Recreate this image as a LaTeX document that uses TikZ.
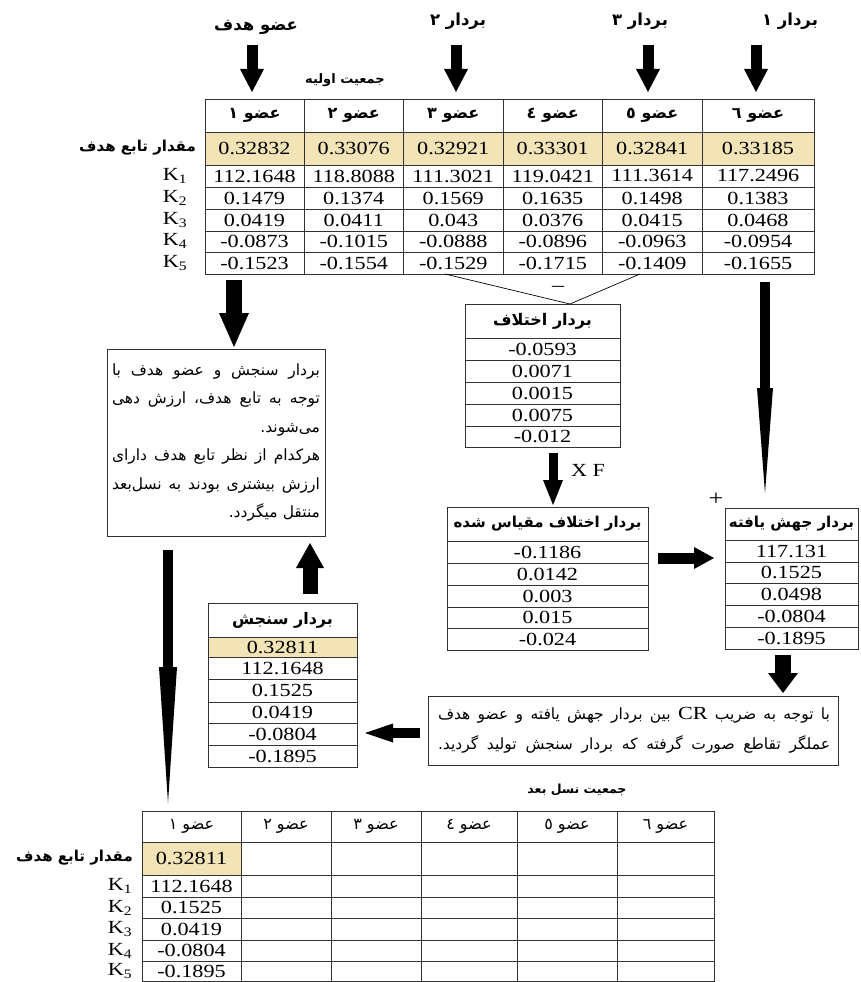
\documentclass[tikz,border=0pt]{standalone}
\usepackage{fontspec}
\setmainfont{Liberation Serif}[FakeStretch=1.2]
\newfontfamily\arb[Script=Arabic]{DejaVu Sans}
\TeXXeTstate=1
\usetikzlibrary{arrows.meta}
\definecolor{hl}{RGB}{242,228,183}
\definecolor{grid}{RGB}{50,50,50}
\newcommand{\RL}[1]{\beginR#1\endR}
\newlength\jlw
% justified right-to-left line: #1 width, #2 number of spaces, #3 text
\newcommand{\JL}[3]{%
  \leavevmode
  \setbox0=\hbox{\spaceskip=0.001pt\beginR#3\endR}%
  \jlw=#1\relax\advance\jlw by -\wd0\relax\divide\jlw by #2\relax
  \hbox to #1{\spaceskip=\jlw\beginR#3\endR}}
\newcommand{\numfont}{\fontsize{18.5}{20}\selectfont}
\newcommand{\Cell}[7]{%
  \node[cell,#6,minimum width={(#3)-(#2)},minimum height={(#5)-(#4)}] (#1) at ({((#2)+(#3))/2},{((#4)+(#5))/2}) {#7};}
\begin{document}
\begin{tikzpicture}[x=1pt,y=-1pt,
  cell/.style={draw=grid,line width=0.6pt,inner sep=0pt,anchor=center,font=\numfont},
  hdb/.style={font=\arb\bfseries\fontsize{16}{18}\selectfont},
  hdl/.style={font=\arb\fontsize{16}{18}\selectfont},
  toplab/.style={font=\arb\bfseries\fontsize{16.5}{18}\selectfont,inner sep=0pt},
  klab/.style={font=\numfont,inner sep=0pt},
  blk/.style n args={3}{draw=black,line width=#1,-{Triangle[length=#2,width=#3,line width=0pt]}},
  ]
\useasboundingbox (0,0) rectangle (860,982);

% ---------- top labels and arrows ----------
\node[toplab] (l1) at (256,27) {\RL{عضو هدف}};
\node[toplab] (l2) at (458,21) {\RL{بردار ٢}};
\node[toplab] (l3) at (640,21) {\RL{بردار ٣}};
\node[toplab] (l4) at (790,21) {\RL{بردار ١}};
\foreach \n/\x in {1/252,2/456,3/648,4/756}{
  \coordinate (ta\n) at (\x,45);
  \coordinate (tb\n) at (\x,92);
  \draw[blk={11pt}{23pt}{24pt}] (ta\n) -- (tb\n);
}
\node[toplab,font=\arb\bfseries\fontsize{13}{15}\selectfont] (pop0) at (345,80) {\RL{جمعیت اولیه}};

% ---------- top table ----------
\foreach \c/\xl/\xr/\d in {1/205/304/١,2/304/403.5/٢,3/403.5/503/٣,4/503/602.5/٤,5/602.5/702/٥,6/702/814/٦}{
  \Cell{h\c}{\xl}{\xr}{99}{132}{hdb}{\RL{عضو \d}}
}
\foreach \c/\xl/\xr/\o/\ka/\kb/\kc/\kd/\ke in {
  1/205/304/0.32832/112.1648/0.1479/0.0419/-0.0873/-0.1523,
  2/304/403.5/0.33076/118.8088/0.1374/0.0411/-0.1015/-0.1554,
  3/403.5/503/0.32921/111.3021/0.1569/0.043/-0.0888/-0.1529,
  4/503/602.5/0.33301/119.0421/0.1635/0.0376/-0.0896/-0.1715,
  5/602.5/702/0.32841/111.3614/0.1498/0.0415/-0.0963/-0.1409,
  6/702/814/0.33185/117.2496/0.1383/0.0468/-0.0954/-0.1655}{
  \Cell{o\c}{\xl}{\xr}{132}{165}{fill=hl}{\o}
  \Cell{ka\c}{\xl}{\xr}{165}{187}{}{\ka}
  \Cell{kb\c}{\xl}{\xr}{187}{209}{}{\kb}
  \Cell{kc\c}{\xl}{\xr}{209}{231}{}{\kc}
  \Cell{kd\c}{\xl}{\xr}{231}{252}{}{\kd}
  \Cell{ke\c}{\xl}{\xr}{252}{274}{}{\ke}
}
\node[toplab,font=\arb\bfseries\fontsize{15}{17}\selectfont,anchor=east] (obj0) at (196,148) {\RL{مقدار تابع هدف}};
\foreach \k/\y in {1/176,2/198,3/220,4/241,5/263}{
  \node[klab] (kl\k) at (175,\y) {K\textsubscript{\k}};
}

% ---------- difference vector ----------
\Cell{dh}{465}{620}{304}{338}{hdb}{\RL{بردار اختلاف}}
\foreach \i/\ya/\yb/\v in {1/338/360/-0.0593,2/360/382/0.0071,3/382/404/0.0015,4/404/426/0.0075,5/426/447/-0.012}{
  \Cell{d\i}{465}{620}{\ya}{\yb}{}{\v}
}
\coordinate (vl) at (445,274);
\coordinate (vr) at (640,274);
\coordinate (vapex) at (570,304);
\draw[line width=0.7pt] (vl) -- (vapex) -- (vr);
\node[font=\fontsize{20}{20}\selectfont,inner sep=0pt] (minus) at (558,289) {\textendash};

% ---------- x F ----------
\coordinate (xfa) at (553,453);
\coordinate (xfb) at (553,505);
\draw[blk={9pt}{25pt}{20pt}] (xfa) -- (xfb);
\node[font=\numfont,inner sep=0pt] (xf) at (588,470) {X F};

% ---------- scaled difference ----------
\Cell{sh}{447}{648}{507}{541}{hdb,font=\arb\bfseries\fontsize{15}{17}\selectfont}{\RL{بردار اختلاف مقیاس شده}}
\foreach \i/\ya/\yb/\v in {1/541/563/-0.1186,2/563/585/0.0142,3/585/607/0.003,4/607/628/0.015,5/628/650/-0.024}{
  \Cell{s\i}{447}{648}{\ya}{\yb}{}{\v}
}

% ---------- mutated vector ----------
\Cell{mh}{725}{858}{508}{540}{hdb,font=\arb\bfseries\fontsize{15}{17}\selectfont}{\RL{بردار جهش یافته}}
\foreach \i/\ya/\yb/\v in {1/540/562/117.131,2/562/583/0.1525,3/583/605/0.0498,4/605/627/-0.0804,5/627/649/-0.1895}{
  \Cell{m\i}{725}{858}{\ya}{\yb}{}{\v}
}
\node[font=\fontsize{22}{22}\selectfont,inner sep=0pt] (plus) at (716,499) {+};
\coordinate (ra) at (765,282);
\coordinate (rb) at (765,493);
\draw[blk={10pt}{105pt}{16pt}] (ra) -- (rb);
\coordinate (sma) at (658,558);
\coordinate (smb) at (714,558);
\draw[blk={11pt}{20pt}{22pt}] (sma) -- (smb);

% ---------- CR box ----------
\node[draw=grid,line width=0.7pt,minimum width=410pt,minimum height=69pt,text width=394pt,align=right,inner xsep=8pt,
      font=\arb\fontsize{15.5}{30}\selectfont] (cr) at (633,730.5)
  {\JL{392pt}{11}{با توجه به ضریب \beginL{\rmfamily\fontsize{18.5}{20}\selectfont CR}\endL{} بین بردار جهش یافته و عضو هدف}\\
   \JL{392pt}{8}{عملگر تقاطع صورت گرفته که بردار سنجش تولید گردید.}};
\coordinate (mda) at (783,655);
\coordinate (mdb) at (783,693);
\draw[blk={16pt}{20pt}{30pt}] (mda) -- (mdb);
\coordinate (cla) at (420,733);
\coordinate (clb) at (365,733);
\draw[blk={10pt}{28pt}{19pt}] (cla) -- (clb);

% ---------- trial vector ----------
\Cell{th}{208}{357}{603}{637}{hdb}{\RL{بردار سنجش}}
\Cell{t0}{208}{357}{637}{657}{fill=hl}{0.32811}
\foreach \i/\ya/\yb/\v in {1/657/679/112.1648,2/679/702/0.1525,3/702/723/0.0419,4/723/745/-0.0804,5/745/767/-0.1895}{
  \Cell{t\i}{208}{357}{\ya}{\yb}{}{\v}
}
\coordinate (upa) at (310,594);
\coordinate (upb) at (310,543);
\draw[blk={15pt}{25pt}{28pt}] (upa) -- (upb);

% ---------- selection text box ----------
\node[draw=grid,line width=0.7pt,minimum width=218pt,minimum height=187pt,text width=208pt,align=right,inner xsep=5pt,
      font=\arb\fontsize{15.5}{28.4}\selectfont] (tbox) at (216,442.5)
  {\JL{208pt}{5}{بردار سنجش و عضو هدف با}\\
   \JL{208pt}{5}{توجه به تابع هدف، ارزش دهی}\\
   \RL{می‌شوند.}\\
   \JL{208pt}{5}{هرکدام از نظر تابع هدف دارای}\\
   \JL{208pt}{4}{ارزش بیشتری بودند به نسل‌بعد}\\
   \RL{منتقل میگردد.}};
\coordinate (dta) at (234,280);
\coordinate (dtb) at (234,347);
\draw[blk={16pt}{34pt}{30pt}] (dta) -- (dtb);
\coordinate (lda) at (168,550);
\coordinate (ldb) at (168,803);
\draw[blk={10pt}{136pt}{18pt}] (lda) -- (ldb);

% ---------- next generation table ----------
\node[toplab,font=\arb\bfseries\fontsize{12.5}{14}\selectfont] (pop1) at (577,790) {\RL{جمعیت نسل بعد}};
\foreach \c/\xl/\xr/\d in {1/142/241/١,2/241/331/٢,3/331/421/٣,4/421/517/٤,5/517/617/٥,6/617/714/٦}{
  \Cell{nh\c}{\xl}{\xr}{811}{842}{hdl}{\RL{عضو \d}}
}
\Cell{no1}{142}{241}{842}{875}{fill=hl}{0.32811}
\foreach \r/\ya/\yb/\v in {a/875/897/112.1648,b/897/918/0.1525,c/918/940/0.0419,d/940/961/-0.0804,e/961/981/-0.1895}{
  \Cell{nk\r1}{142}{241}{\ya}{\yb}{}{\v}
}
\foreach \c/\xl/\xr in {2/241/331,3/331/421,4/421/517,5/517/617,6/617/714}{
  \Cell{no\c}{\xl}{\xr}{842}{875}{}{}
  \foreach \r/\ya/\yb in {a/875/897,b/897/918,c/918/940,d/940/961,e/961/981}{
    \Cell{nk\r\c}{\xl}{\xr}{\ya}{\yb}{}{}
  }
}
\node[toplab,font=\arb\bfseries\fontsize{15}{17}\selectfont,anchor=east] (obj1) at (133,858) {\RL{مقدار تابع هدف}};
\foreach \k/\y in {1/886,2/908,3/929,4/951,5/971}{
  \node[klab] (nkl\k) at (120,\y) {K\textsubscript{\k}};
}
\end{tikzpicture}
\end{document}
